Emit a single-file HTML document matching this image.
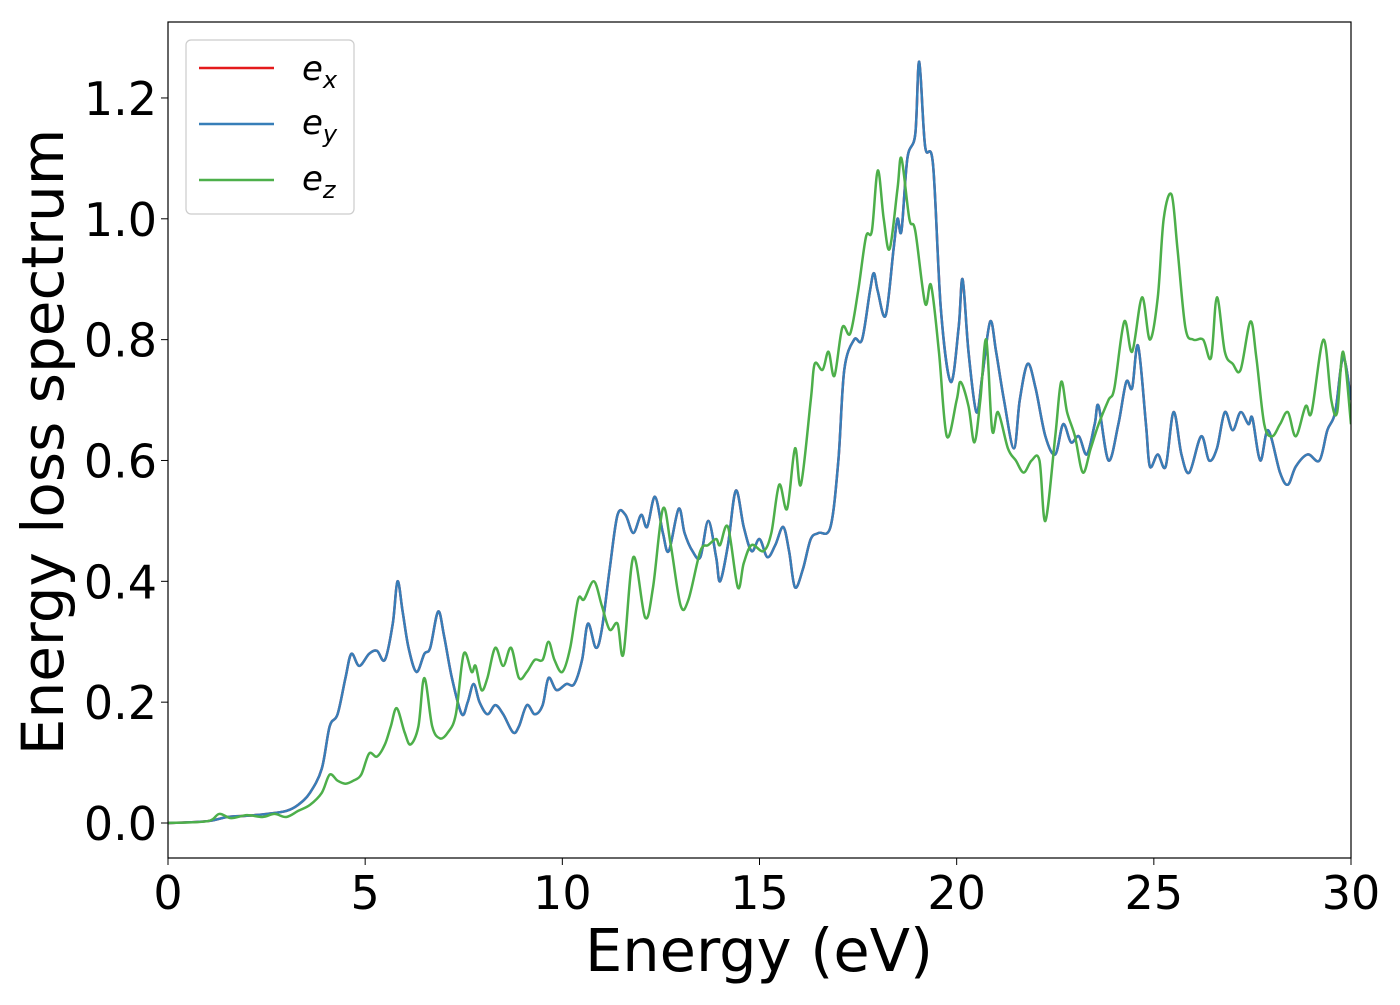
<!DOCTYPE html>
<html><head><meta charset="utf-8"><style>
body{margin:0;background:#fff;width:1400px;height:1000px;overflow:hidden}
svg{font-family:"DejaVu Sans","Liberation Sans",sans-serif}
</style></head><body>
<svg id="chart" width="1400" height="1000" viewBox="0 0 1400 1000" xmlns="http://www.w3.org/2000/svg">
<rect width="1400" height="1000" fill="#fff"/>
<g id="plot"></g>
<rect x="168" y="22" width="1183" height="836" fill="none" stroke="#000" stroke-width="1.2"/>
<g id="ticks"></g>
<text x="759" y="971" font-size="59" text-anchor="middle">Energy (eV)</text>
<text transform="translate(63,442) rotate(-90)" font-size="58" text-anchor="middle">Energy loss spectrum</text>
<g>
<rect x="186" y="40" width="168" height="174" rx="5" fill="#fff" stroke="#ccc" stroke-width="1.2"/>
<line x1="199" y1="68" x2="274" y2="68" stroke="#e41a1c" stroke-width="2.5"/>
<text x="302" y="80" font-size="34" font-style="italic">e<tspan font-size="24" dy="8">x</tspan></text>
<line x1="199" y1="124" x2="274" y2="124" stroke="#377eb8" stroke-width="2.5"/>
<text x="302" y="134" font-size="34" font-style="italic">e<tspan font-size="24" dy="8">y</tspan></text>
<line x1="199" y1="180" x2="274" y2="180" stroke="#4daf4a" stroke-width="2.5"/>
<text x="302" y="190" font-size="34" font-style="italic">e<tspan font-size="24" dy="8">z</tspan></text>
</g>
</svg>
<script>
const xTicks=[0,5,10,15,20,25,30];
const yTicks=[0.0,0.2,0.4,0.6,0.8,1.0,1.2];
const blueX=[0,1,1.5,2,2.5,3,3.3,3.6,3.9,4.1,4.3,4.5,4.65,4.85,5.1,5.3,5.5,5.7,5.82,5.95,6.1,6.3,6.5,6.65,6.85,7.0,7.2,7.45,7.6,7.75,7.9,8.1,8.3,8.5,8.75,8.9,9.1,9.3,9.5,9.65,9.85,10.1,10.3,10.5,10.65,10.85,11.0,11.2,11.4,11.6,11.8,12.0,12.15,12.35,12.55,12.7,12.95,13.1,13.3,13.5,13.7,13.9,14.0,14.2,14.4,14.6,14.8,15.0,15.2,15.4,15.6,15.75,15.9,16.1,16.3,16.5,16.8,17.0,17.15,17.4,17.6,17.8,17.9,18.0,18.2,18.4,18.5,18.6,18.75,18.95,19.05,19.2,19.4,19.6,19.85,20.05,20.15,20.3,20.5,20.65,20.85,21.0,21.2,21.45,21.6,21.8,22.0,22.25,22.5,22.7,22.9,23.1,23.3,23.5,23.6,23.85,24.1,24.3,24.45,24.6,24.8,24.9,25.1,25.3,25.5,25.7,25.9,26.2,26.4,26.6,26.8,27.0,27.2,27.4,27.5,27.7,27.9,28.2,28.4,28.6,28.9,29.2,29.4,29.6,29.8,30];
const blueY=[0,0.003,0.01,0.012,0.015,0.02,0.03,0.05,0.09,0.16,0.18,0.24,0.28,0.26,0.28,0.285,0.27,0.33,0.40,0.35,0.29,0.25,0.28,0.29,0.35,0.31,0.24,0.18,0.20,0.23,0.20,0.18,0.195,0.18,0.15,0.16,0.195,0.18,0.195,0.24,0.22,0.23,0.23,0.27,0.33,0.29,0.32,0.42,0.51,0.51,0.48,0.51,0.49,0.54,0.48,0.45,0.52,0.48,0.45,0.44,0.50,0.44,0.40,0.46,0.55,0.49,0.45,0.47,0.44,0.46,0.49,0.45,0.39,0.42,0.47,0.48,0.49,0.60,0.75,0.80,0.80,0.88,0.91,0.88,0.84,0.95,1.00,0.98,1.10,1.14,1.26,1.12,1.09,0.85,0.73,0.82,0.90,0.78,0.68,0.74,0.83,0.78,0.70,0.62,0.70,0.76,0.72,0.64,0.61,0.66,0.63,0.64,0.61,0.66,0.69,0.60,0.66,0.73,0.72,0.79,0.66,0.59,0.61,0.59,0.68,0.61,0.58,0.64,0.60,0.62,0.68,0.65,0.68,0.66,0.67,0.60,0.65,0.58,0.56,0.59,0.61,0.60,0.65,0.68,0.77,0.70];
const redY=blueY.slice();
const greenX=[0,1,1.3,1.6,2.0,2.4,2.7,3.0,3.3,3.6,3.9,4.1,4.3,4.5,4.7,4.9,5.1,5.3,5.5,5.65,5.8,6.0,6.15,6.35,6.5,6.7,6.9,7.1,7.3,7.5,7.7,7.8,7.95,8.1,8.3,8.5,8.7,8.9,9.1,9.3,9.5,9.65,9.8,10.0,10.2,10.4,10.55,10.8,11.0,11.2,11.4,11.55,11.8,12.1,12.3,12.55,12.75,13.0,13.2,13.5,13.7,13.9,14.0,14.2,14.45,14.6,14.8,15.1,15.3,15.5,15.7,15.9,16.05,16.3,16.4,16.6,16.75,16.9,17.1,17.3,17.5,17.7,17.85,18.0,18.15,18.3,18.5,18.6,18.8,18.95,19.2,19.35,19.55,19.75,20.0,20.1,20.3,20.45,20.6,20.75,20.9,21.05,21.3,21.5,21.7,21.9,22.1,22.25,22.5,22.65,22.8,23.0,23.2,23.4,23.6,23.85,24.0,24.25,24.45,24.7,24.9,25.1,25.25,25.45,25.6,25.8,26.0,26.25,26.45,26.6,26.8,27.0,27.2,27.45,27.6,27.8,28.0,28.2,28.4,28.6,28.85,29.0,29.3,29.5,29.65,29.8,30];
const greenY=[0,0.003,0.015,0.008,0.013,0.01,0.015,0.01,0.02,0.03,0.05,0.08,0.07,0.065,0.07,0.08,0.115,0.11,0.13,0.16,0.19,0.15,0.13,0.16,0.24,0.16,0.14,0.15,0.18,0.28,0.25,0.26,0.22,0.24,0.29,0.26,0.29,0.24,0.25,0.27,0.27,0.30,0.27,0.25,0.29,0.37,0.37,0.40,0.36,0.32,0.33,0.28,0.44,0.34,0.39,0.52,0.46,0.36,0.37,0.45,0.46,0.47,0.46,0.49,0.39,0.43,0.46,0.45,0.48,0.56,0.52,0.62,0.56,0.70,0.76,0.75,0.78,0.74,0.82,0.81,0.88,0.97,0.98,1.08,1.00,0.95,1.05,1.10,1.00,0.98,0.86,0.89,0.78,0.64,0.70,0.73,0.69,0.63,0.70,0.80,0.65,0.68,0.62,0.60,0.58,0.60,0.60,0.50,0.64,0.73,0.68,0.64,0.58,0.62,0.66,0.70,0.72,0.83,0.78,0.87,0.80,0.87,1.00,1.04,0.95,0.82,0.80,0.80,0.77,0.87,0.78,0.76,0.75,0.83,0.77,0.66,0.64,0.66,0.68,0.64,0.69,0.68,0.80,0.70,0.68,0.78,0.66];
const X0=168,X1=1351,Y0=823,YS=604.2;
const sx=v=>X0+(v/30)*(X1-X0);
const sy=v=>Y0-v*YS;
const NS="http://www.w3.org/2000/svg";
function smoothPath(xs,ys){
  const p=xs.map((x,i)=>[sx(x),sy(ys[i])]);
  let d="M"+p[0][0]+","+p[0][1];
  for(let i=0;i<p.length-1;i++){
    const a=p[Math.max(i-1,0)],b=p[i],c=p[i+1],e=p[Math.min(i+2,p.length-1)];
    const c1=[b[0]+(c[0]-a[0])/6,b[1]+(c[1]-a[1])/6],c2=[c[0]-(e[0]-b[0])/6,c[1]-(e[1]-b[1])/6];
    d+=" C"+c1[0]+","+c1[1]+" "+c2[0]+","+c2[1]+" "+c[0]+","+c[1];
  }
  return d;
}
const plot=document.getElementById("plot");
const clip=document.createElementNS(NS,"clipPath");clip.id="cp";
const cr=document.createElementNS(NS,"rect");cr.setAttribute("x",168);cr.setAttribute("y",22);cr.setAttribute("width",1183);cr.setAttribute("height",836);
clip.appendChild(cr);plot.appendChild(clip);
function addLine(xs,ys,color,name){
  const el=document.createElementNS(NS,"path");
  el.setAttribute("d",smoothPath(xs,ys));
  el.setAttribute("fill","none");el.setAttribute("stroke",color);el.setAttribute("stroke-width","2.5");
  el.setAttribute("clip-path","url(#cp)");
  
  
  plot.appendChild(el);
}
addLine(blueX,redY,"#e41a1c","series-ex");
addLine(blueX,blueY,"#377eb8","series-ey");
addLine(greenX,greenY,"#4daf4a","series-ez");
const tg=document.getElementById("ticks");
xTicks.forEach(v=>{
  const l=document.createElementNS(NS,"line");
  l.setAttribute("x1",sx(v));l.setAttribute("x2",sx(v));l.setAttribute("y1",858);l.setAttribute("y2",865);l.setAttribute("stroke","#000");
  
  
  tg.appendChild(l);
  const t=document.createElementNS(NS,"text");
  t.setAttribute("x",sx(v));t.setAttribute("y",909);t.setAttribute("font-size","46");t.setAttribute("text-anchor","middle");
  t.textContent=v;
  
  
  tg.appendChild(t);
});
yTicks.forEach(v=>{
  const l=document.createElementNS(NS,"line");
  l.setAttribute("x1",161);l.setAttribute("x2",168);l.setAttribute("y1",sy(v));l.setAttribute("y2",sy(v));l.setAttribute("stroke","#000");
  
  
  tg.appendChild(l);
  const t=document.createElementNS(NS,"text");
  t.setAttribute("x",157);t.setAttribute("y",sy(v)+17);t.setAttribute("font-size","46");t.setAttribute("text-anchor","end");
  t.textContent=v.toFixed(1);
  
  
  tg.appendChild(t);
});
</script>
</body></html>
